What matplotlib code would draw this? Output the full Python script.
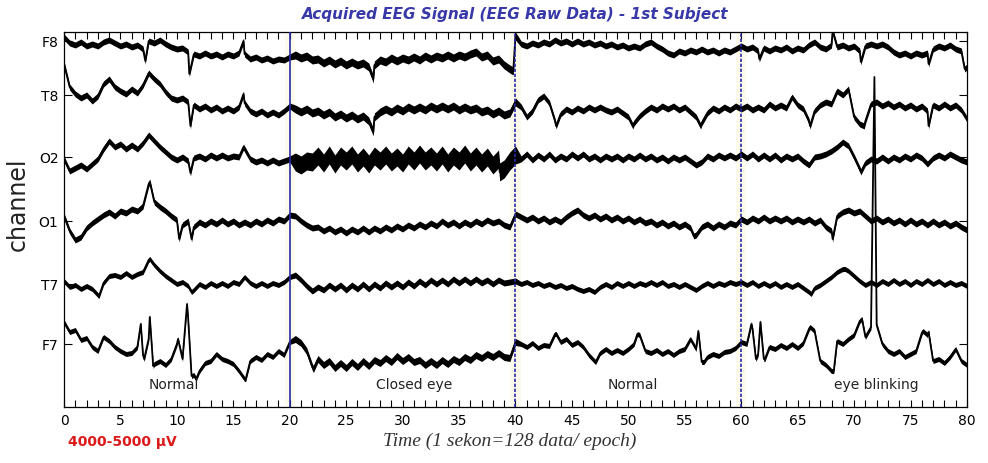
import numpy as np
import matplotlib.pyplot as plt

# channel names, top to bottom
channels = ['F8', 'T8', 'O2', 'O1', 'T7', 'F7']

# signal, one value every 0.5 s (0 .. 80 s), display units
F8 = [4, -2, -4, -1, -5, -3, -5, -1, 1, -2, -5, -3, -6, -4, -8, 0, -2, 1, -3, -6,
      -8, -7, -11, -13, -15, -12, -15, -13, -16, -13, -15, -12, -13, -18, -16, -19, -17, -20, -18, -19,
      -16, -14, -17, -15, -19, -18, -22, -19, -23, -20, -24, -21, -24, -22, -26, -24, -19, -21, -17, -20,
      -17, -19, -16, -19, -15, -18, -15, -17, -14, -17, -14, -16, -13, -11, -16, -14, -20, -18, -24, -28,
      5, -3, -5, -2, -4, -1, -3, 1, -2, 0, -3, 0, -3, -1, -4, -2, -5, -3, -6, -4,
      -7, -5, -7, -3, -1, -5, -8, -12, -14, -10, -12, -9, -11, -8, -11, -9, -12, -9, -11, -8,
      -5, -8, -6, -10, -7, -10, -7, -9, -6, -10, -7, -9, -4, -1, -6, -8, -4, -6, -4, -7,
      -5, -10, -5, -3, -5, -3, -6, -11, -14, -12, -15, -12, -14, -12, -8, -5, -7, -4, -8, -10,
      -26]
T8 = [31, 8, 1, -3, 0, -6, -1, 11, 16, 8, 4, 1, 6, 2, 10, 22, 16, 11, 3, -3,
      -5, -3, -7, -10, -14, -11, -15, -12, -16, -13, -16, -12, -8, -16, -19, -16, -20, -17, -20, -16,
      -11, -14, -17, -14, -18, -16, -20, -17, -22, -19, -23, -20, -24, -21, -26, -22, -17, -14, -17, -13,
      -16, -12, -15, -12, -15, -11, -14, -11, -14, -11, -15, -12, -15, -13, -17, -15, -19, -16, -20, -18,
      -7, -12, -22, -16, -5, -1, -8, -26, -19, -14, -17, -13, -16, -12, -15, -12, -15, -17, -14, -18,
      -22, -28, -21, -16, -12, -15, -11, -14, -11, -15, -12, -17, -22, -28, -18, -13, -16, -12, -15, -11,
      -14, -11, -15, -12, -15, -9, -13, -10, -13, -2, -10, -14, -26, -16, -10, -7, -9, 4, 0, 6,
      -22, -29, -26, -9, -7, -11, -8, -12, -9, -13, -10, -14, -11, -16, -10, -13, -9, -13, -10, -15,
      -24]
O2 = [-2, -14, -11, -8, -12, -7, -2, 8, 16, 10, 13, 8, 12, 8, 14, 22, 16, 10, 5, 0,
      -3, 0, -4, -1, 1, -2, 2, -1, 2, -1, 1, 0, 8, -2, -5, -3, -6, -3, -6, -4,
      -2, -5, -8, -4, -5, 1, -6, 2, -7, 1, -4, 2, -6, 0, -7, 1, -4, 2, -5, 0,
      -6, 2, -4, 3, -4, 1, -5, 2, -6, 1, -4, 3, -5, 1, -6, 0, -8, -2, -12, -4,
      2, -2, 3, -3, 2, -2, 3, -3, 1, -2, 3, -1, 3, -2, 1, -3, 1, -2, 1, -3,
      1, -2, 2, -2, 1, -3, 0, -4, 0, -3, 0, -4, -8, -5, 1, -2, 2, -1, 2, -1,
      3, -1, 3, -2, 2, -2, 2, -3, 1, -2, 1, -4, -8, 0, 1, 3, 6, 10, 15, 11,
      0, -12, -6, -2, -4, 0, -4, 0, -3, 1, -2, 2, -1, -7, -1, 2, -1, 3, 0, -3,
      -5]
O1 = [5, -10, -19, -16, -7, -2, 2, 6, 9, 5, 10, 8, 12, 10, 15, 37, 19, 14, 10, 5,
      1, -4, 0, -6, -1, -4, 0, -3, 1, -3, 0, -4, -1, -4, 0, -3, 1, -2, 2, 0,
      6, 5, 0, -4, -7, -6, -10, -7, -11, -8, -12, -8, -11, -7, -11, -7, -10, -6, -9, -5,
      -8, -4, -7, -3, -6, -2, -5, 0, -4, -1, -5, -1, -4, 0, -3, 1, -2, 0, -4, -6,
      7, 4, 1, 4, 0, 3, -1, 2, -1, 4, 8, 11, 6, 3, 6, 2, 5, 1, 4, 0,
      3, -1, 2, -2, 0, -4, -1, -5, -2, -6, -3, -7, -14, -6, -3, -7, -3, -6, -2, -4,
      2, -1, 3, 0, 4, 0, 3, 0, 3, -1, 2, -1, 2, -2, 1, -6, -10, 5, 9, 11,
      8, 10, 5, 0, 3, -1, 2, -2, 1, -3, 1, -3, 0, -4, 0, -4, -1, -5, -2, -6,
      -9]
T7 = [3, -3, -1, -5, -2, -5, -11, 1, 8, 9, 7, 11, 7, 10, 12, 24, 19, 13, 8, 4,
      0, 2, -2, -6, 0, -3, 1, -2, 1, -2, 2, 0, 7, 1, -2, 1, -2, 1, -1, 2,
      7, 9, 4, -2, -7, -3, -6, -1, -5, -1, -6, -1, -5, 0, -5, 0, -4, 1, -3, 1,
      -3, 2, -2, 3, -1, 4, 0, 4, 0, 5, 1, 5, 1, 5, 1, 4, 0, 4, 1, 2,
      3, 0, 2, -1, 1, -2, 0, -3, -1, -4, -2, -5, -7, -5, -8, -3, 0, -3, 1, -2,
      1, -2, 1, -1, 2, -1, 2, -2, 0, -3, 0, -3, -6, -2, 1, -2, 1, -1, 2, 0,
      2, -1, 2, -2, 1, -2, 1, -3, 0, -3, 0, -4, -8, -4, -1, 3, 7, 12, 15, 13,
      8, 3, -1, 2, -1, 3, 0, 4, 0, 3, -1, 3, 0, 4, 0, 3, -1, 2, -1, 1,
      -2]
F7 = [22, 12, 14, 4, 6, -3, -7, 7, 3, -3, -7, -10, -9, -3, -11, 5, -20, -17, -21, -15,
      0, -15, 25, -31, -27, -19, -17, -10, -15, -17, -20, -27, -35, -17, -13, -16, -10, -13, -7, -11,
      2, 5, 1, -7, -23, -15, -21, -17, -24, -19, -24, -18, -23, -17, -22, -16, -19, -14, -18, -12,
      -17, -13, -18, -16, -21, -17, -21, -16, -20, -15, -18, -13, -16, -11, -14, -10, -13, -9, -13, -14,
      2, 0, -3, 1, -4, -1, -2, 10, 2, 5, -1, 2, -3, -11, -17, -9, -5, -9, -6, -9,
      -5, 0, 9, -7, -9, -6, -10, -7, -11, -7, -5, 5, -5, -18, -13, -10, -12, -8, -7, -4,
      2, 0, 15, -10, -15, -3, -5, -1, -4, 0, -4, 1, 15, 13, -17, -21, -27, 3, 0, 5,
      9, 23, 7, 17, 19, 0, -7, -10, -7, -13, -10, -7, 11, 9, -17, -15, -19, -13, -5, -17,
      -21]

# short spikes between the 0.5 s samples: (time s, value)
spikes = {
    'F8': [(7.2, -20), (11.1, -33), (15.9, 0), (27.4, -38), (39.8, -30), (61.6, -18),
           (68.1, 10), (70.6, -21), (76.6, -23), (79.8, -28)],
    'T8': [(11.2, -31), (15.9, 1), (27.4, -37), (43.6, -31), (50.4, -31), (56.4, -31),
           (66.1, -31), (70.9, -31), (76.6, -31)],
    'O2': [(11.2, -16), (15.9, 10), (38.6, -15), (70.6, -15)],
    'O1': [(7.6, 39), (10.2, -18), (11.3, -18), (55.8, -15), (68.1, -18)],
    'T7': [(3.1, -12), (7.6, 25), (11.3, -8), (66.2, -10), (69.2, 15)],
    'F7': [(6.8, 20), (7.1, -15), (7.6, 27), (7.9, -22), (10.1, 5), (10.9, 40),
           (11.3, -32), (11.7, -35), (16.1, -35), (22.1, -25), (43.6, 10), (47.1, -18),
           (50.8, 10), (56.2, 13), (56.7, -18), (60.9, 20), (61.3, -15), (61.7, 22),
           (62.1, -15), (66.1, 17), (68.2, -27), (70.7, 25), (71.8, 267), (76.1, 13),
           (76.6, 12)],
}
# half thickness of the noise band in each recording state (normal, closed, normal, blink)
noise = {
    'F8': [3, 4, 3, 3],
    'T8': [3, 4, 3, 3],
    'O2': [3, 9, 3, 3],
    'O1': [3, 3, 3, 3],
    'T7': [2.5, 3, 2.5, 2.5],
    'F7': [2.5, 3.5, 2.5, 2.5],
}
signals = {'F8': F8, 'T8': T8, 'O2': O2, 'O1': O1, 'T7': T7, 'F7': F7}

borders = [20, 40, 60]
border_styles = ['solid', (0, (2, 1)), (0, (2, 1))]
states = [(9.7, 'Normal'), (31.0, 'Closed eye'), (50.4, 'Normal'), (72.0, 'eye blinking')]

# vertical offset of each trace (axis units = pixels from bottom)
offsets = [366, 312, 250, 186, 123, 63]

fig = plt.figure(figsize=(9.88, 4.64), dpi=100)
ax = fig.add_axes([0.0648, 0.1207, 0.9139, 0.8082])

t = np.arange(0, 80.01, 0.5)
for name, off in zip(channels, offsets):
    tt = np.concatenate([t, [s[0] for s in spikes[name]]])
    vv = np.concatenate([signals[name], [s[1] for s in spikes[name]]])
    order = np.argsort(tt, kind='stable')
    tt, vv = tt[order], vv[order] + off
    w = np.array(noise[name])[np.searchsorted(borders, tt)]
    ax.fill_between(tt, vv - w, vv + w, color='black', lw=0)
    ax.plot(tt, vv, color='black', lw=1.3)

for x, ls in zip(borders, border_styles):
    ax.axvspan(x - 0.45, x + 0.45, color='#fbf8dc', alpha=0.6, lw=0, zorder=0)
    ax.axvline(x, color='#2a2aa8', lw=1.2, ls=ls, zorder=3)

for x, txt in states:
    ax.text(x, 23, txt, ha='center', va='center', fontsize=10, color='#222222')

ax.set_xlim(0, 80)
ax.set_ylim(0, 375)
ax.set_xticks(np.arange(0, 81, 5))
ax.set_xticks(np.arange(0, 81, 1), minor=True)
ax.set_yticks(offsets)
ax.set_yticklabels(channels)
ax.tick_params(which='both', direction='in', top=True, right=True, length=5, width=0.8,
               labelsize=10, pad=4)
ax.tick_params(axis='y', length=6)
for sp in ax.spines.values():
    sp.set_linewidth(0.9)

fig.text(0.521, 0.968, 'Acquired EEG Signal (EEG Raw Data) - 1st Subject', ha='center',
         va='center', fontsize=11, fontstyle='italic', fontweight='bold', color='#3838a8')
fig.text(0.018, 0.56, 'channel', rotation=90, ha='center', va='center', fontsize=17,
         color='#222222')
fig.text(0.516, 0.048, 'Time (1 sekon=128 data/ epoch)', ha='center', va='center',
         fontsize=14, fontstyle='italic', family='Liberation Serif', color='#333333')
fig.text(0.069, 0.047, '4000-5000 μV', ha='left', va='center', fontsize=10,
         fontweight='bold', color='#dd1a1a')

fig.savefig('out.png', dpi=100)
